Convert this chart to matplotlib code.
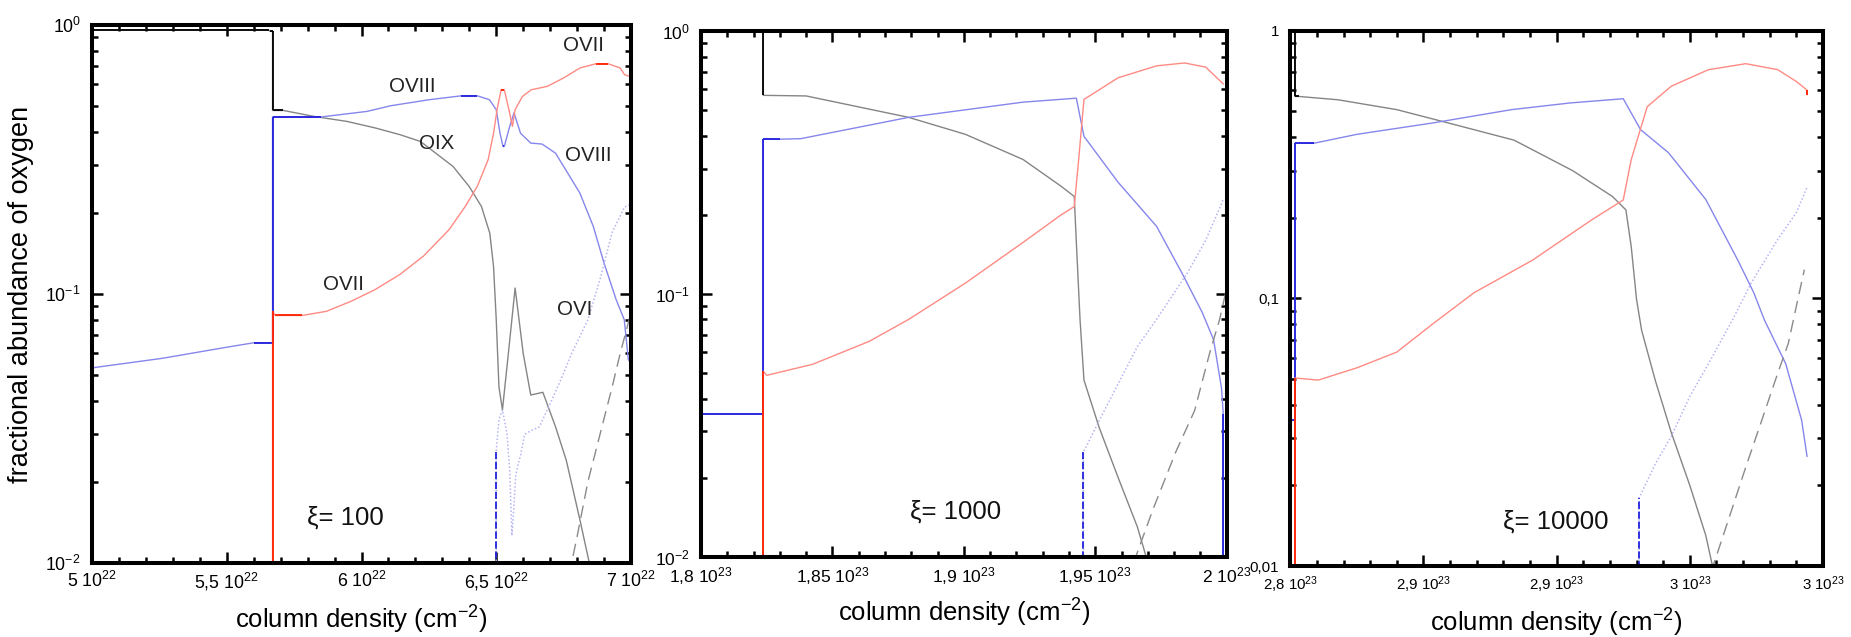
import matplotlib
matplotlib.use('Agg')
import matplotlib.pyplot as plt
from matplotlib.ticker import MultipleLocator, LogLocator, NullFormatter

plt.rcParams['font.family'] = ['Liberation Sans', 'DejaVu Sans']
plt.rcParams['mathtext.default'] = 'regular'

# ---------------- data (column density mantissa, fractional abundance) -----
# Panel 1 : xi = 100, x in units of 1e22
p1_oix_x = [5.00, 5.655, 5.66, 5.67, 5.67, 5.71, 5.824, 5.946, 6.052, 6.143, 6.219, 6.34, 6.40,
            6.445, 6.476, 6.49, 6.50, 6.51, 6.523, 6.545, 6.57, 6.60, 6.628, 6.673, 6.72, 6.76,
            6.81, 6.85]
p1_oix_y = [0.958, 0.958, 0.945, 0.945, 0.48, 0.48, 0.456, 0.437, 0.413, 0.39, 0.368, 0.297, 0.25,
            0.211, 0.168, 0.126, 0.08, 0.045, 0.037, 0.06, 0.105, 0.06, 0.042, 0.043, 0.032, 0.024,
            0.0145, 0.0095]
p1_oviii_x = [5.00, 5.26, 5.49, 5.60, 5.67, 5.67, 5.85, 6.02, 6.11, 6.25, 6.37, 6.43, 6.475, 6.50,
              6.514, 6.525, 6.53, 6.55, 6.566, 6.59, 6.628, 6.67, 6.72, 6.81, 6.86, 6.90, 6.945,
              6.975, 6.99, 7.00]
p1_oviii_y = [0.053, 0.0575, 0.063, 0.0657, 0.0657, 0.454, 0.454, 0.476, 0.50, 0.526, 0.544, 0.544,
              0.526, 0.483, 0.395, 0.353, 0.353, 0.419, 0.47, 0.395, 0.363, 0.36, 0.333, 0.237,
              0.178, 0.13, 0.095, 0.08, 0.057, 0.055]
p1_ovii_x = [5.67, 5.67, 5.68, 5.78, 5.87, 5.96, 6.05, 6.143, 6.23, 6.325, 6.385, 6.43, 6.47, 6.49,
             6.503, 6.518, 6.53, 6.547, 6.56, 6.57, 6.597, 6.63, 6.69, 6.75, 6.81, 6.87, 6.915,
             6.96, 6.976, 7.00]
p1_ovii_y = [0.001, 0.086, 0.083, 0.083, 0.086, 0.0936, 0.1035, 0.118, 0.138, 0.173, 0.211, 0.251,
             0.315, 0.395, 0.483, 0.573, 0.573, 0.483, 0.419, 0.483, 0.541, 0.573, 0.59, 0.634,
             0.69, 0.716, 0.716, 0.69, 0.652, 0.64]
p1_ovi_x = [6.50, 6.50, 6.51, 6.523, 6.54, 6.55, 6.558, 6.565, 6.572, 6.58, 6.59, 6.605, 6.63, 6.66,
            6.70, 6.74, 6.78, 6.84, 6.885, 6.93, 6.976, 7.00]
p1_ovi_y = [0.001, 0.026, 0.034, 0.037, 0.03, 0.022, 0.0126, 0.016, 0.021, 0.023, 0.025, 0.03,
            0.031, 0.032, 0.039, 0.048, 0.06, 0.08, 0.113, 0.169, 0.21, 0.215]
p1_ov_x = [6.77, 6.80, 6.84, 6.885, 6.93, 6.96, 7.00]
p1_ov_y = [0.009, 0.0125, 0.02, 0.030, 0.045, 0.06, 0.085]

# Panel 2 : xi = 1000, x in units of 1e23
p2_oix_x = [1.80, 1.8237, 1.8237, 1.84, 1.879, 1.9006, 1.9225, 1.937, 1.942, 1.9428, 1.9442,
            1.9457, 1.9515, 1.9587, 1.966, 1.970]
p2_oix_y = [0.995, 0.995, 0.57, 0.567, 0.47, 0.405, 0.325, 0.257, 0.235, 0.157, 0.08, 0.047,
            0.031, 0.02, 0.013, 0.0095]
p2_oviii_x = [1.80, 1.8237, 1.8237, 1.83, 1.838, 1.879, 1.9225, 1.9428, 1.9457, 1.9587, 1.9733,
              1.983, 1.9907, 1.995, 1.998, 1.9987, 1.9987]
p2_oviii_y = [0.035, 0.035, 0.388, 0.388, 0.39, 0.47, 0.537, 0.556, 0.398, 0.266, 0.181, 0.12,
              0.085, 0.067, 0.044, 0.035, 0.005]
p2_ovii_x = [1.8237, 1.8237, 1.825, 1.8425, 1.864, 1.879, 1.9006, 1.9225, 1.937, 1.942, 1.9435,
             1.9457, 1.9587, 1.9733, 1.984, 1.992, 1.9987]
p2_ovii_y = [0.001, 0.0508, 0.049, 0.054, 0.066, 0.08, 0.11, 0.157, 0.2, 0.215, 0.31, 0.55, 0.665,
             0.738, 0.757, 0.73, 0.63]
p2_ovi_x = [1.9455, 1.9455, 1.9515, 1.966, 1.9733, 1.985, 1.992, 1.998, 1.9987]
p2_ovi_y = [0.001, 0.025, 0.033, 0.063, 0.08, 0.12, 0.16, 0.22, 0.23]
p2_ov_x = [1.9646, 1.9718, 1.9806, 1.9878, 1.9936, 1.9973, 1.9995]
p2_ov_y = [0.0095, 0.015, 0.025, 0.036, 0.06, 0.08, 0.1]

# Panel 3 : xi = 10000, x in units of 1e23
p3_oix_x = [2.80, 2.8017, 2.8017, 2.8032, 2.8179, 2.84, 2.862, 2.884, 2.906, 2.921, 2.926, 2.928,
            2.930, 2.9319, 2.937, 2.943, 2.950, 2.956, 2.959]
p3_oix_y = [0.995, 0.995, 0.568, 0.568, 0.552, 0.507, 0.445, 0.39, 0.30, 0.24, 0.214, 0.156,
            0.099, 0.076, 0.0495, 0.0316, 0.02, 0.013, 0.0095]
p3_oviii_x = [2.80, 2.8017, 2.8017, 2.809, 2.825, 2.854, 2.883, 2.905, 2.925, 2.9315, 2.942,
              2.956, 2.968, 2.974, 2.978, 2.986, 2.992, 2.994]
p3_oviii_y = [0.035, 0.035, 0.38, 0.38, 0.41, 0.453, 0.507, 0.537, 0.557, 0.427, 0.35, 0.234,
              0.139, 0.105, 0.083, 0.057, 0.035, 0.0257]
p3_ovii_x = [2.8017, 2.8017, 2.8105, 2.825, 2.84, 2.854, 2.869, 2.891, 2.913, 2.925, 2.928, 2.931,
             2.934, 2.943, 2.957, 2.971, 2.983, 2.990, 2.994, 2.994]
p3_ovii_y = [0.001, 0.0504, 0.0495, 0.055, 0.063, 0.081, 0.105, 0.139, 0.196, 0.233, 0.33, 0.414,
             0.52, 0.62, 0.715, 0.753, 0.715, 0.646, 0.60, 0.577]
p3_ovi_x = [2.931, 2.931, 2.937, 2.943, 2.950, 2.957, 2.966, 2.973, 2.983, 2.990, 2.994]
p3_ovi_y = [0.001, 0.018, 0.024, 0.0305, 0.043, 0.057, 0.083, 0.114, 0.166, 0.209, 0.26]
p3_ov_x = [2.958, 2.9645, 2.971, 2.977, 2.983, 2.987, 2.9905, 2.993]
p3_ov_y = [0.0095, 0.0149, 0.0234, 0.035, 0.0525, 0.068, 0.0986, 0.128]

# ticks / labels
p1_xticks = [5.0, 5.5, 6.0, 6.5, 7.0]
p1_xticklabels = ["5 10$^{22}$", "5,5 10$^{22}$", "6 10$^{22}$", "6,5 10$^{22}$", "7 10$^{22}$"]
p2_xticks = [1.80, 1.85, 1.90, 1.95, 2.00]
p2_xticklabels = ["1,8 10$^{23}$", "1,85 10$^{23}$", "1,9 10$^{23}$", "1,95 10$^{23}$", "2 10$^{23}$"]
p3_xticks = [2.80, 2.85, 2.90, 2.95, 3.00]
p3_xticklabels = ["2,8 10$^{23}$", "2,9 10$^{23}$", "2,9 10$^{23}$", "3 10$^{23}$", "3 10$^{23}$"]
yticks = [0.01, 0.1, 1.0]
yticklabels_exp = ["10$^{-2}$", "10$^{-1}$", "10$^{0}$"]
yticklabels_dec = ["0,01", "0,1", "1"]

p1_ion_labels = ["OVII", "OVIII", "OIX", "OVIII", "OVII", "OVI"]
p1_ion_label_x = [6.824, 6.19, 6.28, 6.84, 5.934, 6.79]
p1_ion_label_y = [0.838, 0.59, 0.362, 0.327, 0.108, 0.087]

xi_labels = ["ξ= 100", "ξ= 1000", "ξ= 10000"]
xi_label_x = [5.94, 1.897, 2.8995]
xi_label_y = [0.0147, 0.0149, 0.0147]

xlabel_text = "column density (cm$^{-2}$)"
ylabel_text = "fractional abundance of oxygen"

# ---------------- styles ----------------
# (pale colour for the thin sloped parts, saturated colour for the axis-aligned parts)
series_styles = [
    dict(pale='#858585', sat='#000000', lw=1.0, ls='-', sat_ls='-'),        # OIX
    dict(pale='#8686ec', sat='#2222dd', lw=1.0, ls='-', sat_ls='-'),        # OVIII
    dict(pale='#ff8a84', sat='#ff2200', lw=1.0, ls='-', sat_ls='-'),        # OVII
    dict(pale='#b4b4f4', sat='#2222dd', lw=1.1, ls=(0, (1, 1.4)), sat_ls=(0, (4, 1.5))),  # OVI
    dict(pale='#8a8a8a', sat='#222222', lw=1.0, ls=(0, (9, 5)), sat_ls='-'),  # OV
]

W, H = 1851, 637
fig = plt.figure(figsize=(W / 100, H / 100), dpi=100)

def box(l, r, t, b):
    return [l / W, 1 - b / H, (r - l) / W, (b - t) / H]

ax1 = fig.add_axes(box(92, 631, 24.7, 562.7))
ax2 = fig.add_axes(box(701, 1226.7, 31.2, 556.7))
ax3 = fig.add_axes(box(1290.3, 1823, 30.7, 566))

panels = [
    (ax1, (5.0, 7.0), p1_xticks, p1_xticklabels, 0.1, yticklabels_exp, 12.8,
     [(p1_oix_x, p1_oix_y), (p1_oviii_x, p1_oviii_y), (p1_ovii_x, p1_ovii_y),
      (p1_ovi_x, p1_ovi_y), (p1_ov_x, p1_ov_y)]),
    (ax2, (1.8, 2.0), p2_xticks, p2_xticklabels, 0.01, yticklabels_exp, 12.6,
     [(p2_oix_x, p2_oix_y), (p2_oviii_x, p2_oviii_y), (p2_ovii_x, p2_ovii_y),
      (p2_ovi_x, p2_ovi_y), (p2_ov_x, p2_ov_y)]),
    (ax3, (2.8, 3.0), p3_xticks, p3_xticklabels, 0.01, yticklabels_dec, 10.8,
     [(p3_oix_x, p3_oix_y), (p3_oviii_x, p3_oviii_y), (p3_ovii_x, p3_ovii_y),
      (p3_ovi_x, p3_ovi_y), (p3_ov_x, p3_ov_y)]),
]

for i, (ax, xlim, xt, xtl, minor, ytl, tfs, series) in enumerate(panels):
    for (xs, ys), st in zip(series, series_styles):
        ax.plot(xs, ys, color=st['pale'], lw=st['lw'], ls=st['ls'])
        for k in range(len(xs) - 1):
            if xs[k] == xs[k + 1] or ys[k] == ys[k + 1]:
                ax.plot(xs[k:k + 2], ys[k:k + 2], color=st['sat'], lw=1.3,
                        ls=st['sat_ls'], solid_capstyle='butt')
    ax.set_yscale('log')
    ax.set_xlim(*xlim)
    ax.set_ylim(0.01, 1.0)
    ax.set_xticks(xt, xtl, fontsize=tfs)
    ax.xaxis.set_minor_locator(MultipleLocator(minor))
    ax.set_yticks(yticks, ytl, fontsize=tfs)
    ax.yaxis.set_minor_locator(LogLocator(base=10, subs=range(2, 10)))
    ax.yaxis.set_minor_formatter(NullFormatter())
    ax.tick_params(which='both', direction='in', top=True, right=True, color='black')
    ax.tick_params(which='major', length=8, width=1.8)
    ax.tick_params(which='minor', length=4.5, width=1.8)
    ax.tick_params(axis='x', which='major', pad=6)
    ax.tick_params(axis='y', which='major', pad=8)
    for s in ax.spines.values():
        s.set_linewidth(2.9)
    ax.set_xlabel(xlabel_text, fontsize=18.5)
    ax.xaxis.set_label_coords(0.5, -0.106)
    ax.xaxis.label.set_verticalalignment('center')
    ax.text(xi_label_x[i], xi_label_y[i], xi_labels[i], fontsize=18.5,
            ha='center', va='center', color='#111111')

for txt, x, y in zip(p1_ion_labels, p1_ion_label_x, p1_ion_label_y):
    ax1.text(x, y, txt, fontsize=14.8, ha='center', va='center', color='#222222')

fig.text(21 / W, 1 - 294 / H, ylabel_text, rotation=90, fontsize=19.5,
         ha='center', va='center')

fig.savefig('out.png', dpi=100)
